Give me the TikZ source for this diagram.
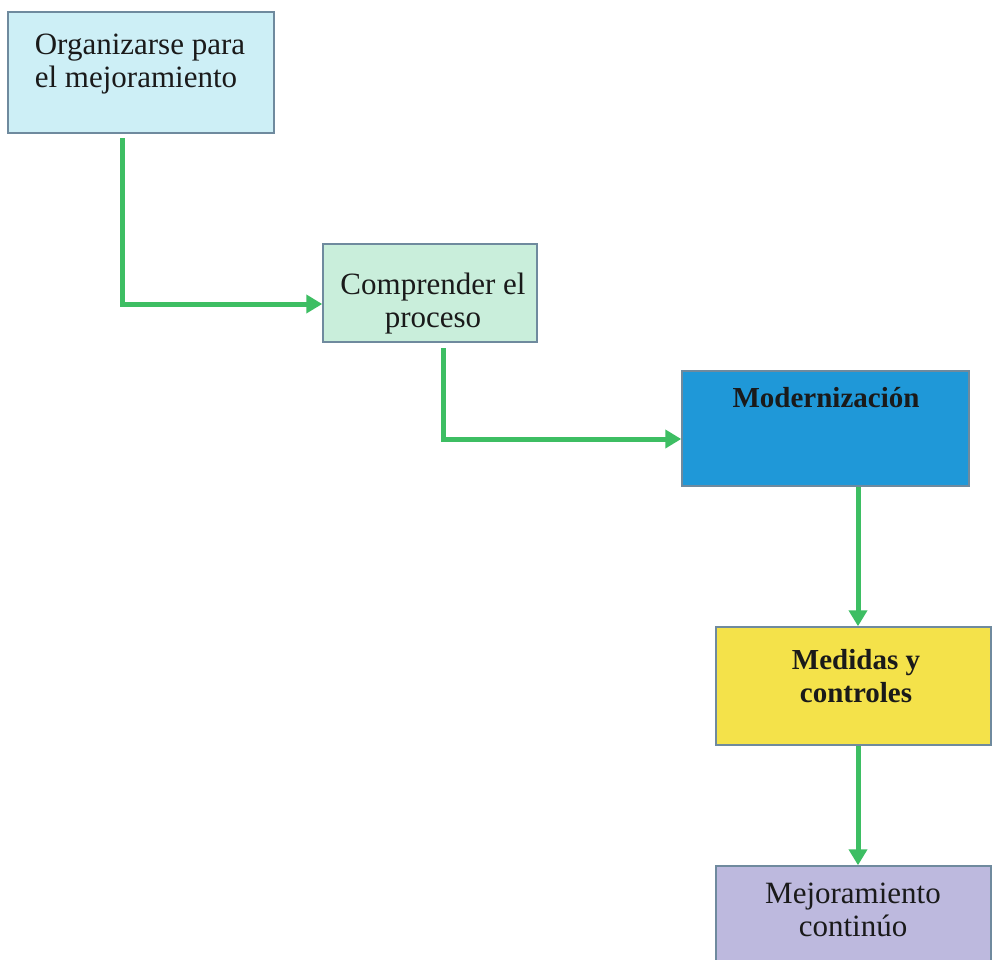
\documentclass[tikz,border=0pt]{standalone}
\usepackage{fontspec}
\setmainfont{Liberation Serif}
\usetikzlibrary{arrows.meta}
\definecolor{bordc}{HTML}{6F8A9E}
\definecolor{fillA}{HTML}{CDEFF6}
\definecolor{fillB}{HTML}{C9EEDB}
\definecolor{fillC}{HTML}{1F98D8}
\definecolor{fillD}{HTML}{F4E24A}
\definecolor{fillE}{HTML}{BDB9DE}
\definecolor{arrc}{HTML}{3DBE63}
\definecolor{txtc}{HTML}{1A1A1A}
\tikzset{
  box/.style={draw=bordc, line width=1.5pt, rectangle, inner sep=0pt},
  txtreg/.style={align=center, text=txtc, font=\fontsize{31}{33}\selectfont, inner sep=0pt},
  txtbold/.style={align=center, text=txtc, font=\fontsize{29}{33}\selectfont\bfseries, inner sep=0pt},
  arr/.style={draw=arrc, line width=5pt, -{Triangle[length=16pt,width=18pt]}}
}
\begin{document}
\begin{tikzpicture}[x=1pt,y=-1pt]
\useasboundingbox[fill=white] (0,0) rectangle (992,959);
\node[box, fill=fillA, minimum width=266pt, minimum height=121pt] (b1) at (141,72.5) {};
\node[box, fill=fillB, minimum width=214pt, minimum height=98pt] (b2) at (430,293) {};
\node[box, fill=fillC, minimum width=287pt, minimum height=115pt] (b3) at (825.5,428.5) {};
\node[box, fill=fillD, minimum width=275pt, minimum height=118pt] (b4) at (853.5,686) {};
\node[box, fill=fillE, minimum width=275pt, minimum height=110pt] (b5) at (853.5,921) {};

\node[txtreg, align=left] (t1) at (140,64) {Organizarse para\\el mejoramiento};
\node[txtreg] (t2) at (433,304) {Comprender el\\proceso};
\node[txtbold] (t3) at (826,398) {Modernización};
\node[txtbold] (t4) at (856,676) {Medidas y\\controles};
\node[txtreg] (t5) at (853,910) {Mejoramiento\\continúo};

\coordinate (c1) at (122,138);
\coordinate (c2) at (443,348);
\coordinate (x3) at (858,500);

\draw[arr] (c1) |- ([yshift=-11pt]b2.west);
\draw[arr] (c2) |- ([yshift=-10.5pt]b3.west);
\draw[arr] (b3.south -| x3) -- (b4.north -| x3);
\draw[arr] (b4.south -| x3) -- (b5.north -| x3);
\end{tikzpicture}
\end{document}
